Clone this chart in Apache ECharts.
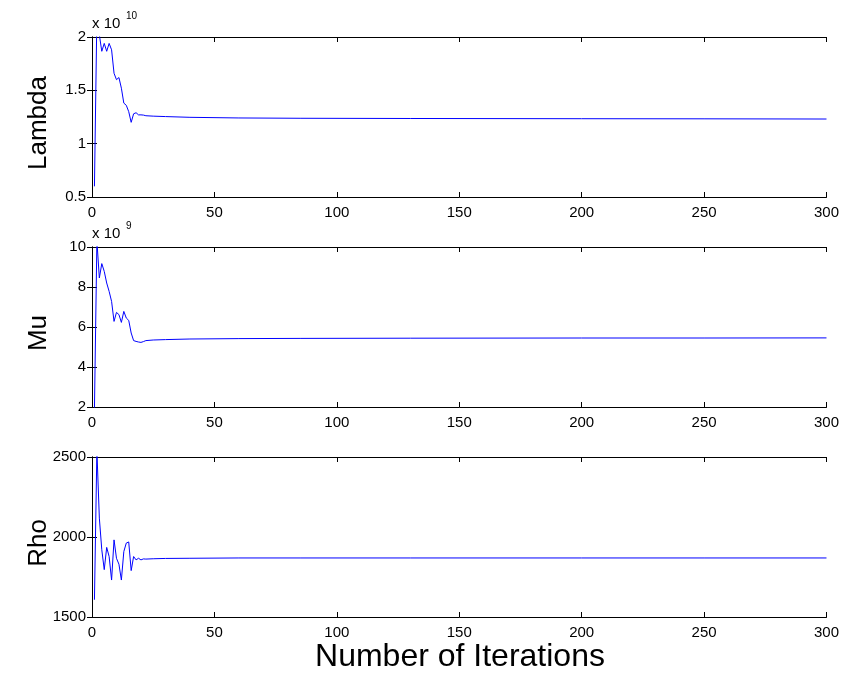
<!DOCTYPE html>
<html>
<head>
<meta charset="utf-8">
<script src="https://cdn.jsdelivr.net/npm/echarts@6/dist/echarts.min.js"></script>
<style>
html,body{margin:0;padding:0;background:#fff;}
#chart{width:842px;height:673px;}
</style>
</head>
<body>
<div id="chart"></div>
<script>
// Iteration numbers at which values were read
const iterations = [1,2,3,4,5,6,7,8,9,10,11,12,13,14,15,16,17,18,19,20,21,22,25,30,40,60,85,130,200,250,300];
// Lambda, in units of 1e10
const lambdaVals = [0.60,2.20,2.02,1.866,1.94,1.866,1.94,1.88,1.66,1.60,1.62,1.52,1.38,1.36,1.30,1.20,1.28,1.29,1.27,1.27,1.268,1.262,1.258,1.254,1.247,1.241,1.238,1.236,1.234,1.233,1.231];
// Mu, in units of 1e9
const muVals = [1.9,10.3,8.45,9.17,8.78,8.2,7.78,7.28,6.28,6.73,6.62,6.23,6.78,6.45,6.33,5.7,5.32,5.28,5.25,5.23,5.27,5.32,5.35,5.37,5.40,5.42,5.43,5.44,5.45,5.45,5.455];
// Rho
const rhoVals = [1608,2540,2118,1920,1796,1935,1878,1731,1982,1867,1830,1731,1909,1962,1969,1790,1878,1857,1867,1857,1863,1862,1864,1866,1867,1869,1869,1869,1869,1869,1869];

const yLabels = ['Lambda','Mu','Rho'];
const yRanges = [[0.5,2,0.5],[2,10,2],[1500,2500,500]];
const xTicks = {min:0, max:300, interval:50};
const xTitle = 'Number of Iterations';

const FONT = 'Liberation Sans, Arial, Helvetica, sans-serif';
const tops = [37,247,457];
const gridH = 160, gridL = 92, gridR = 14;
const seriesData = [lambdaVals, muVals, rhoVals];

const grids = [], xAxes = [], yAxes = [], series = [], graphics = [];
tops.forEach((t,i)=>{
  grids.push({left:gridL, right:gridR, top:t, height:gridH, containLabel:false});
  const axLine = {show:true, lineStyle:{color:'#000', width:1}};
  const tick = {inside:true,length:5,lineStyle:{color:'#000'}};
  xAxes.push({type:'value', gridIndex:i, position:'bottom', min:xTicks.min, max:xTicks.max, interval:xTicks.interval,
    axisLine:axLine, axisTick:tick, splitLine:{show:false},
    axisLabel:{color:'#000', fontSize:15, fontFamily:FONT, margin:8, formatter:v=>String(v)}});
  xAxes.push({type:'value', gridIndex:i, position:'top', min:xTicks.min, max:xTicks.max, interval:xTicks.interval,
    axisLine:axLine, axisTick:tick, splitLine:{show:false}, axisLabel:{show:false}});
  const r = yRanges[i];
  yAxes.push({type:'value', gridIndex:i, position:'left', min:r[0], max:r[1], interval:r[2],
    axisLine:axLine, axisTick:tick, splitLine:{show:false},
    axisLabel:{color:'#000', fontSize:15, fontFamily:FONT, margin:6, formatter:v=>String(v)}});
  yAxes.push({type:'value', gridIndex:i, position:'right', min:r[0], max:r[1], interval:r[2],
    axisLine:axLine, axisTick:tick, splitLine:{show:false}, axisLabel:{show:false}});
  series.push({type:'line', xAxisIndex:2*i, yAxisIndex:2*i, showSymbol:false, symbol:'none', clip:true,
    lineStyle:{color:'#0000ff', width:1}, animation:false,
    data: iterations.map((x,k)=>[x, seriesData[i][k]])});
  graphics.push({type:'text', x:39, y:t+gridH/2+6, rotation:Math.PI/2,
    style:{text:yLabels[i], fontSize:26, fontFamily:FONT, fill:'#000', textAlign:'center', textVerticalAlign:'middle'}});
});
// exponent annotations
graphics.push({type:'text', x:92, y:24, style:{text:'x 10', fontSize:15, fontFamily:FONT, fill:'#000', textAlign:'left', textVerticalAlign:'middle'}});
graphics.push({type:'text', x:126, y:16, style:{text:'10', fontSize:10, fontFamily:FONT, fill:'#000', textAlign:'left', textVerticalAlign:'middle'}});
graphics.push({type:'text', x:92, y:234, style:{text:'x 10', fontSize:15, fontFamily:FONT, fill:'#000', textAlign:'left', textVerticalAlign:'middle'}});
graphics.push({type:'text', x:126, y:226, style:{text:'9', fontSize:10, fontFamily:FONT, fill:'#000', textAlign:'left', textVerticalAlign:'middle'}});
graphics.push({type:'text', x:460, y:657, style:{text:xTitle, fontSize:32, fontFamily:FONT, fill:'#000', textAlign:'center', textVerticalAlign:'middle'}});

const chart = echarts.init(document.getElementById('chart'), null, {renderer:'canvas'});
chart.setOption({animation:false, backgroundColor:'#fff', grid:grids, xAxis:xAxes, yAxis:yAxes, series:series, graphic:graphics});
</script>
</body>
</html>
